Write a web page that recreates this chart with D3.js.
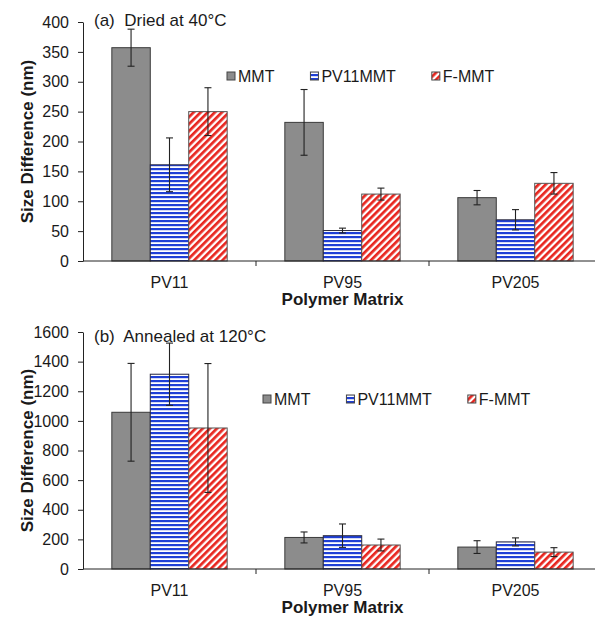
<!DOCTYPE html>
<html>
<head>
<meta charset="utf-8">
<script src="https://cdn.jsdelivr.net/npm/d3@7"></script>
<style>
  body { margin: 0; background: #fff; }
  text { font-family: "Liberation Sans", Arial, sans-serif; fill: #1a1a1a; }
</style>
</head>
<body>
<svg id="chart" width="595" height="619"></svg>
<script>
// data
var categories = ["PV11", "PV95", "PV205"];
var series = ["MMT", "PV11MMT", "F-MMT"];

var driedMMT = [357, 232, 106];
var driedMMTErr = [31, 55, 12];
var driedPV11MMT = [161, 51, 69];
var driedPV11MMTErr = [45, 4, 17];
var driedFMMT = [250, 112, 130];
var driedFMMTErr = [40, 10, 18];

var annealedMMT = [1058, 213, 148];
var annealedMMTErr = [330, 37, 43];
var annealedPV11MMT = [1315, 225, 183];
var annealedPV11MMTErr = [210, 79, 27];
var annealedFMMT = [952, 162, 114];
var annealedFMMTErr = [435, 40, 30];

var driedTicks = [0, 50, 100, 150, 200, 250, 300, 350, 400];
var annealedTicks = [0, 200, 400, 600, 800, 1000, 1200, 1400, 1600];

var svg = d3.select("#chart");
var defs = svg.append("defs");

// blue horizontal stripes
var pb = defs.append("pattern").attr("id", "blueStripes")
    .attr("patternUnits", "userSpaceOnUse").attr("width", 8).attr("height", 4);
pb.append("rect").attr("width", 8).attr("height", 4).attr("fill", "#fff");
pb.append("rect").attr("y", 0).attr("width", 8).attr("height", 2.2).attr("fill", "#1f3fd6");

// red diagonal stripes "/"
var pr = defs.append("pattern").attr("id", "redStripes")
    .attr("patternUnits", "userSpaceOnUse").attr("width", 5).attr("height", 5)
    .attr("patternTransform", "rotate(45)");
pr.append("rect").attr("width", 5).attr("height", 5).attr("fill", "#fff");
pr.append("rect").attr("x", 0).attr("width", 2.7).attr("height", 5).attr("fill", "#e8251e");

var fills = { "MMT": "#8c8c8c", "PV11MMT": "url(#blueStripes)", "F-MMT": "url(#redStripes)" };
var strokes = { "MMT": "#3a3a3a", "PV11MMT": "#2a2a40", "F-MMT": "#555" };

function drawPanel(opt) {
    var g = svg.append("g");

    var x0 = d3.scaleBand().domain(categories).range([opt.left, opt.right]).padding(0);
    var x1 = d3.scaleBand().domain(series).range([0, x0.bandwidth()])
        .paddingInner(0).paddingOuter(0.75);
    var y = d3.scaleLinear().domain([0, opt.max]).range([opt.bottom, opt.top]);

    var rows = [];
    series.forEach(function (s, si) {
        categories.forEach(function (c, ci) {
            rows.push({ s: s, c: c, v: opt.values[si][ci], e: opt.errors[si][ci] });
        });
    });

    g.selectAll(".bar").data(rows).enter().append("rect")
        .attr("class", "bar")
        .attr("x", function (d) { return x0(d.c) + x1(d.s); })
        .attr("y", function (d) { return y(d.v); })
        .attr("width", x1.bandwidth())
        .attr("height", function (d) { return y(0) - y(d.v); })
        .attr("fill", function (d) { return fills[d.s]; })
        .attr("stroke", function (d) { return strokes[d.s]; })
        .attr("stroke-width", 1);

    // error bars
    var eb = g.selectAll(".err").data(rows).enter().append("g").attr("class", "err")
        .attr("stroke", "#222").attr("stroke-width", 1.1);
    var cx = function (d) { return x0(d.c) + x1(d.s) + x1.bandwidth() / 2; };
    eb.append("line")
        .attr("x1", cx).attr("x2", cx)
        .attr("y1", function (d) { return y(d.v + d.e); })
        .attr("y2", function (d) { return y(d.v - d.e); });
    [1, -1].forEach(function (sign) {
        eb.append("line")
            .attr("x1", function (d) { return cx(d) - 3.5; })
            .attr("x2", function (d) { return cx(d) + 3.5; })
            .attr("y1", function (d) { return y(d.v + sign * d.e); })
            .attr("y2", function (d) { return y(d.v + sign * d.e); });
    });

    // y axis
    var ya = g.append("g").attr("transform", "translate(" + opt.left + ",0)")
        .call(d3.axisLeft(y).tickValues(opt.ticks).tickFormat(d3.format("d"))
            .tickSize(5).tickPadding(9).tickSizeOuter(0));
    ya.select(".domain").attr("stroke", "#222");
    ya.selectAll(".tick line").attr("stroke", "#222");
    ya.selectAll(".tick text").style("font-size", "16px").attr("fill", "#1a1a1a")
        .style("font-family", "'Liberation Sans', Arial, sans-serif");

    // x axis
    var xa = g.append("g").attr("transform", "translate(0," + opt.bottom + ")");
    xa.append("line").attr("x1", opt.left).attr("x2", opt.right)
        .attr("stroke", "#222");
    xa.selectAll(".ctick").data(categories.slice(1)).enter().append("line")
        .attr("x1", function (d) { return x0(d); }).attr("x2", function (d) { return x0(d); })
        .attr("y1", 0).attr("y2", 5).attr("stroke", "#222");
    xa.selectAll(".clab").data(categories).enter().append("text")
        .attr("x", function (d) { return x0(d) + x0.bandwidth() / 2; })
        .attr("y", 27).attr("text-anchor", "middle").style("font-size", "16px")
        .text(function (d) { return d; });

    g.append("text").attr("x", (opt.left + opt.right) / 2).attr("y", opt.bottom + 44)
        .attr("text-anchor", "middle").style("font-size", "17px").style("font-weight", "bold")
        .text("Polymer Matrix");

    g.append("text")
        .attr("transform", "translate(33," + (opt.top + opt.bottom) / 2 + ") rotate(-90)")
        .attr("text-anchor", "middle").style("font-size", "17px").style("font-weight", "bold")
        .text("Size Difference (nm)");

    // panel label
    g.append("text").attr("x", opt.left + 11).attr("y", opt.top + opt.titleDy)
        .style("font-size", "17px").style("white-space", "pre")
        .text(opt.title);

    // legend
    var lx = opt.legendX;
    series.forEach(function (s) {
        var lg = g.append("g").attr("transform", "translate(" + lx + "," + opt.legendY + ")");
        lg.append("rect").attr("x", 0).attr("y", -10).attr("width", 8).attr("height", 8)
            .attr("fill", fills[s]).attr("stroke", "#444").attr("stroke-width", 1);
        var t = lg.append("text").attr("x", 11).attr("y", 0).style("font-size", "16px").text(s);
        lx += 11 + t.node().getComputedTextLength() + 36;
    });
}

drawPanel({
    top: 22, bottom: 261, left: 83, right: 602, max: 400, ticks: driedTicks,
    values: [driedMMT, driedPV11MMT, driedFMMT],
    errors: [driedMMTErr, driedPV11MMTErr, driedFMMTErr],
    title: "(a)  Dried at 40°C", titleDy: 4,
    legendX: 227, legendY: 82
});

drawPanel({
    top: 332, bottom: 569, left: 83, right: 602, max: 1600, ticks: annealedTicks,
    values: [annealedMMT, annealedPV11MMT, annealedFMMT],
    errors: [annealedMMTErr, annealedPV11MMTErr, annealedFMMTErr],
    title: "(b)  Annealed at 120°C", titleDy: 10,
    legendX: 263, legendY: 405
});
</script>
</body>
</html>
